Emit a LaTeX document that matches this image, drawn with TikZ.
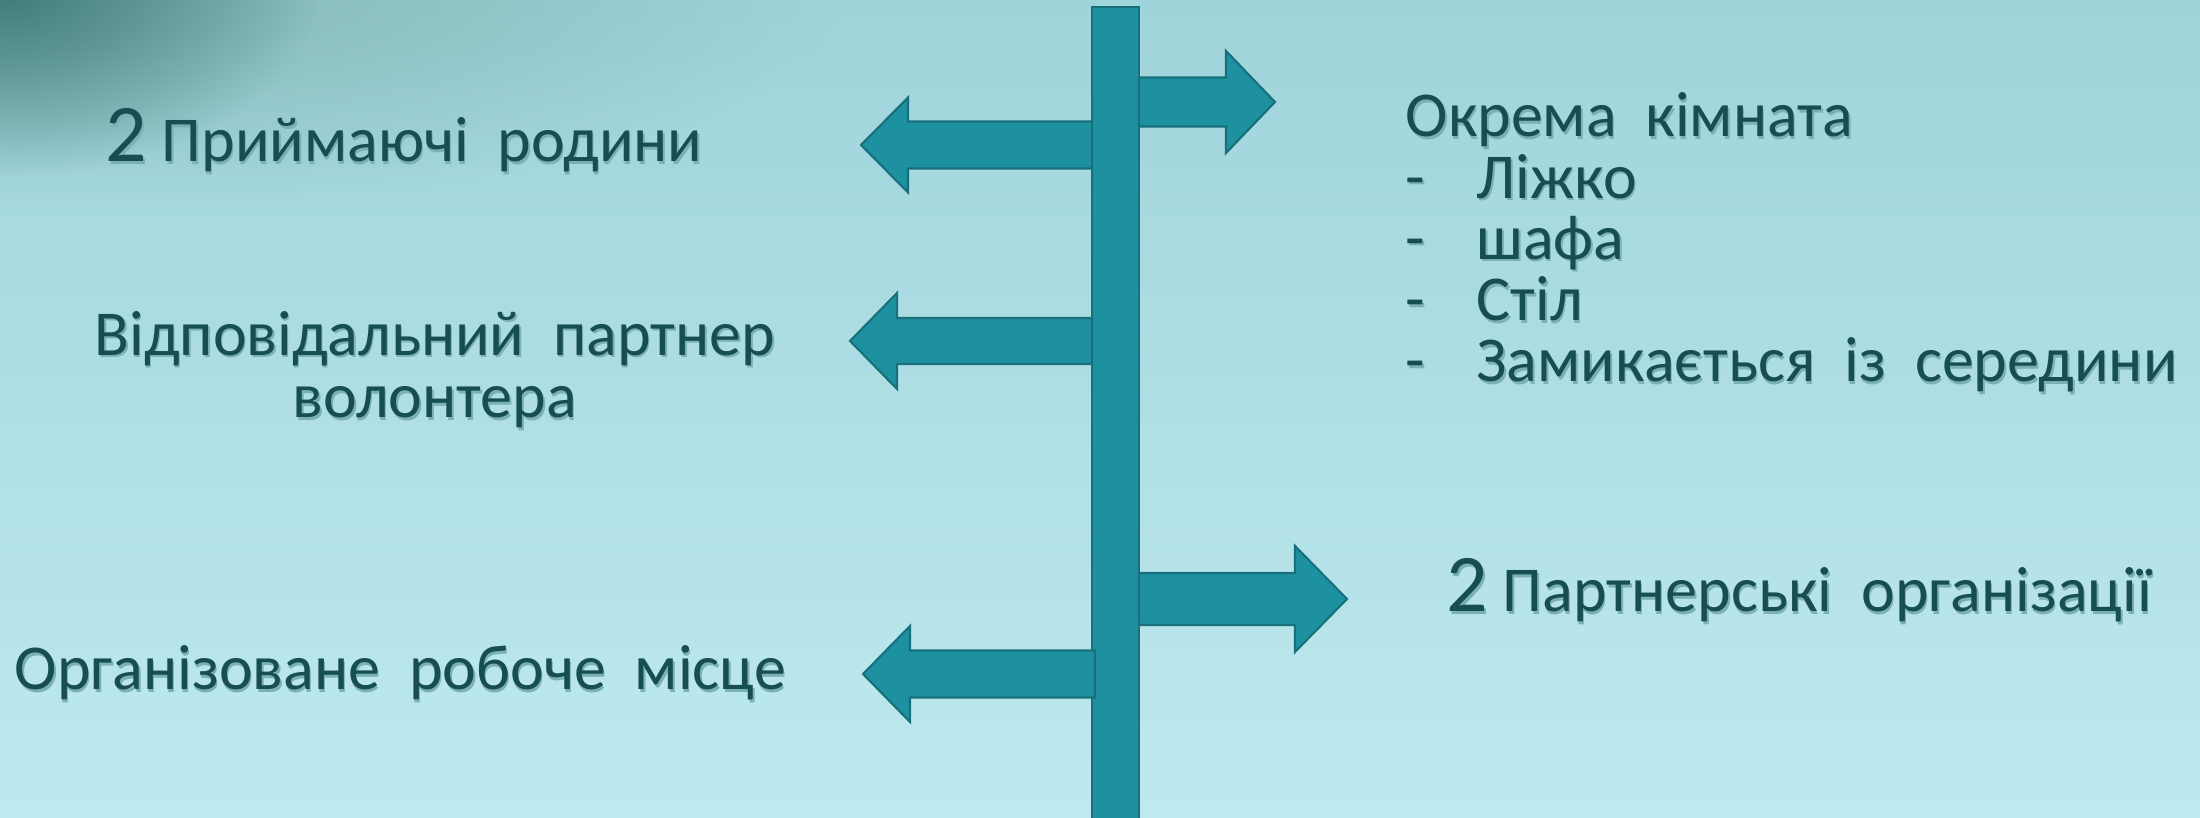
\documentclass[tikz,border=0pt]{standalone}
\usepackage{fontspec}
\setmainfont{Carlito}
\usetikzlibrary{fadings}

\definecolor{bgtop}{HTML}{9FD4DA}
\definecolor{bgmid}{HTML}{A8E1EA}
\definecolor{bgbot}{HTML}{BFE9F0}
\definecolor{cornergrey}{HTML}{86B8B8}
\definecolor{cornerdark}{HTML}{3E7A78}
\definecolor{poleteal}{HTML}{1D91A0}
\definecolor{poleedge}{HTML}{17707B}
\definecolor{txtteal}{HTML}{174E53}
\definecolor{txtshadow}{HTML}{7BB0B6}

\tikzfading[name=cornerfade, inner color=transparent!0, outer color=transparent!100]

\newcommand{\shd}[1]{\leavevmode\rlap{\kern0.015cm\raisebox{-0.025cm}{\color{txtshadow}#1}}#1}
\newcommand{\bigtwo}{\fontsize{23.3}{23.3}\selectfont}

\tikzset{
  signarrow/.style={fill=poleteal, draw=poleedge, line width=0.6pt, line join=miter},
  signtext/.style={text=txtteal, inner sep=0pt, font=\fontsize{18.2}{17.43}\selectfont}
}

\begin{document}
\begin{tikzpicture}
	\useasboundingbox (0,0) rectangle (22,8.18);
	% background
	\fill [top color=bgtop, middle color=bgmid, bottom color=bgbot] (0,0) rectangle (22,8.18);
	\fill [cornergrey, path fading=cornerfade] (1.5,8.3) ellipse (7 and 2.2);
	\fill [cornerdark, path fading=cornerfade] (0,8.3) ellipse (3.2 and 1.9);
	% pole and arrows
	\draw [signarrow] (10.92,-0.05) rectangle (11.39,8.11);
	\foreach \xe/\xb/\xt/\y/\s/\h in {11.39/12.26/12.75/7.16/0.245/0.51, 10.92/9.08/8.61/6.73/0.235/0.475, 10.92/8.97/8.50/4.77/0.23/0.48, 11.39/12.95/13.47/2.19/0.26/0.53, 10.95/9.10/8.63/1.44/0.235/0.48}
		\draw [signarrow] (\xe,\y+\s) -- (\xb,\y+\s) -- (\xb,\y+\h) -- (\xt,\y) -- (\xb,\y-\h) -- (\xb,\y-\s) -- (\xe,\y-\s) -- cycle;
	% texts
	\node [signtext, anchor=base west] (families) at (1.05,6.56) {\shd{{\bigtwo 2} Приймаючі~~родини}};
	\node [signtext, anchor=base, align=center, font=\fontsize{18.2}{17.9}\selectfont] (partner) at (4.35,4.00) {\shd{Відповідальний~~партнер}\\\shd{волонтера}};
	\node [signtext, anchor=base west] (workplace) at (0.14,1.28) {\shd{Організоване~~робоче~~місце}};
	\node [signtext, anchor=base west, align=left] (room) at (14.05,4.36) {\shd{Окрема~~кімната}\\\shd{\makebox[0.71cm][l]{-}Ліжко}\\\shd{\makebox[0.71cm][l]{-}шафа}\\\shd{\makebox[0.71cm][l]{-}Стіл}\\\shd{\makebox[0.71cm][l]{-}Замикається~~із~~середини}};
	\node [signtext, anchor=base west] (orgs) at (14.46,2.06) {\shd{{\bigtwo 2} Партнерські~~організації}};
\end{tikzpicture}
\end{document}
